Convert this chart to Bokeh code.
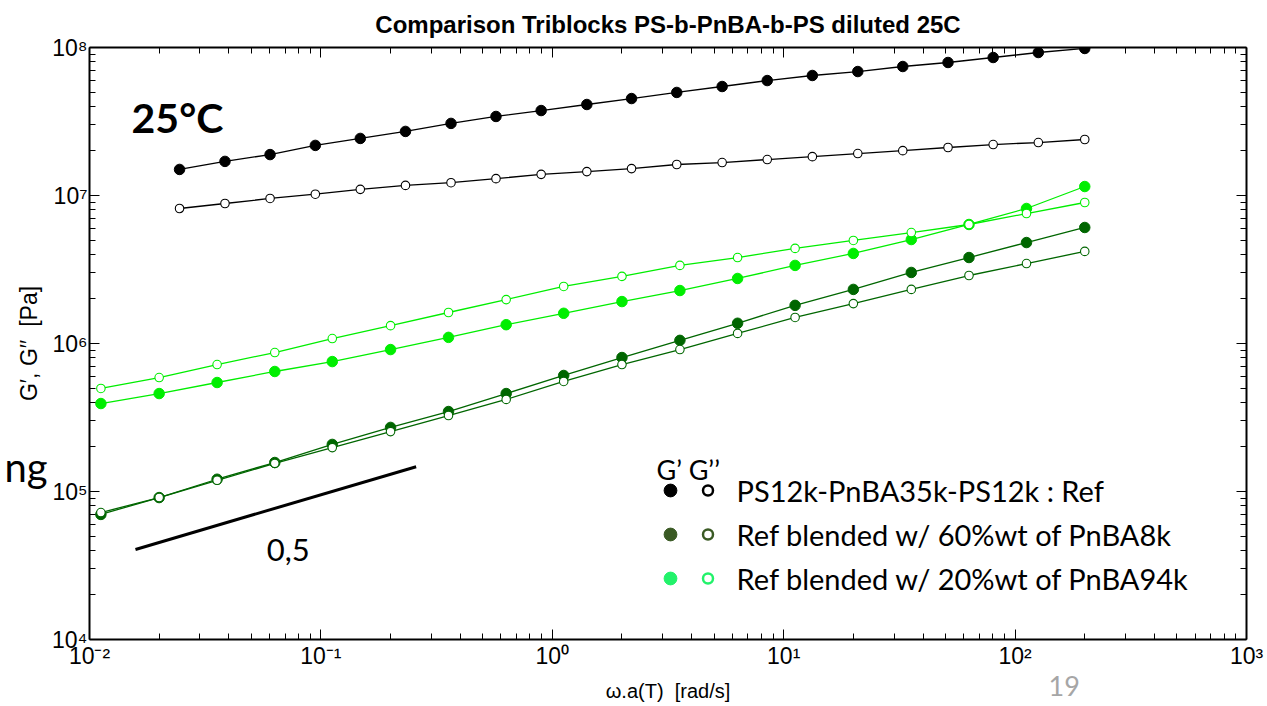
import math
from bokeh.plotting import figure
from bokeh.models import (Range1d, LogAxis, FixedTicker, Label, Legend, LegendItem,
                          ColumnDataSource, CustomJSTickFormatter)
from bokeh.embed import file_html
from bokeh.resources import INLINE

# ---------------- data ----------------
freq_ref = [0.0245, 0.0385, 0.0603, 0.0946, 0.148, 0.232, 0.365, 0.571, 0.895, 1.41, 2.20,
            3.45, 5.42, 8.49, 13.3, 20.9, 32.7, 51.3, 80.4, 126, 200]
gp_ref = [1.50e7, 1.70e7, 1.89e7, 2.18e7, 2.43e7, 2.71e7, 3.07e7, 3.42e7, 3.75e7, 4.12e7, 4.52e7,
          4.97e7, 5.45e7, 5.98e7, 6.47e7, 6.88e7, 7.44e7, 7.92e7, 8.56e7, 9.25e7, 9.85e7]
gpp_ref = [8.17e6, 8.83e6, 9.55e6, 1.02e7, 1.10e7, 1.17e7, 1.22e7, 1.30e7, 1.39e7, 1.45e7, 1.52e7,
           1.62e7, 1.67e7, 1.75e7, 1.83e7, 1.92e7, 2.01e7, 2.11e7, 2.21e7, 2.28e7, 2.39e7]

freq_blend = [0.0112, 0.02, 0.0356, 0.0632, 0.112, 0.2, 0.356, 0.632, 1.12, 2.0, 3.56, 6.32,
              11.2, 20.0, 35.6, 63.2, 112, 200]
gp_8k = [7.0e4, 9.1e4, 1.21e5, 1.57e5, 2.08e5, 2.71e5, 3.47e5, 4.59e5, 6.08e5, 8.04e5, 1.05e6,
         1.37e6, 1.81e6, 2.32e6, 3.02e6, 3.81e6, 4.81e6, 6.08e6]
gpp_8k = [7.21e4, 9.1e4, 1.19e5, 1.55e5, 1.98e5, 2.54e5, 3.26e5, 4.19e5, 5.54e5, 7.21e5, 9.10e5,
          1.17e6, 1.50e6, 1.86e6, 2.32e6, 2.88e6, 3.47e6, 4.19e6]
gp_94k = [3.93e5, 4.59e5, 5.45e5, 6.47e5, 7.55e5, 9.10e5, 1.10e6, 1.34e6, 1.60e6, 1.92e6, 2.28e6,
          2.75e6, 3.37e6, 4.06e6, 5.04e6, 6.37e6, 8.17e6, 1.15e7]
gpp_94k = [4.97e5, 5.89e5, 7.21e5, 8.69e5, 1.08e6, 1.32e6, 1.62e6, 1.98e6, 2.43e6, 2.84e6, 3.37e6,
           3.81e6, 4.39e6, 4.97e6, 5.62e6, 6.37e6, 7.55e6, 8.97e6]

slope_x = [0.0158, 0.258]
slope_y = [4.06e4, 1.47e5]

x_major = [1e-2, 1e-1, 1e0, 1e1, 1e2, 1e3]
x_tick_labels = ["10\u207b\u00b2", "10\u207b\u00b9", "10\u2070", "10\u00b9", "10\u00b2", "10\u00b3"]
y_major = [1e4, 1e5, 1e6, 1e7, 1e8]
y_tick_labels = ["10\u2074", "10\u2075", "10\u2076", "10\u2077", "10\u2078"]

legend_labels = ["PS12k-PnBA35k-PS12k : Ref",
                 "Ref blended w/ 60%wt of PnBA8k",
                 "Ref blended w/ 20%wt of PnBA94k"]
legend_colors = ["#000000", "#3a5a24", "#22f26a"]

title_text = "Comparison Triblocks PS-b-PnBA-b-PS diluted 25C"
x_label = "\u03c9.a(T)\u00a0\u00a0[rad/s]"
y_label = "G\u2032, G\u2032\u2032\u00a0\u00a0[Pa]"

# ---------------- figure ----------------
def minors(majors):
    out = []
    for m in majors[:-1]:
        out += [m * k for k in range(2, 10)]
    return out

def px_x(px):  # page x pixel -> data x (placement helper for texts)
    return 10 ** (-2 + (px - 89) / 231.0)

def px_y(py):
    return 10 ** (8 - (py - 47) / 148.0)

p = figure(width=1267, height=706, x_axis_type="log", y_axis_type="log",
           x_range=Range1d(1e-2, 1e3), y_range=Range1d(1e4, 1e8),
           output_backend="svg", toolbar_location=None,
           min_border_left=89, min_border_right=21, min_border_top=47, min_border_bottom=67)
p.outline_line_color = None
p.xgrid.visible = False
p.ygrid.visible = False
p.background_fill_color = "white"
p.border_fill_color = "white"

p.title.text = title_text
p.title.align = "center"
p.title.vertical_align = "top"
p.title.standoff = 15
p.title.text_font = "Liberation Sans"
p.title.text_font_style = "bold"
p.title.text_font_size = "24px"
p.title.text_color = "black"

def style_axis(ax):
    ax.axis_line_width = 2
    ax.axis_line_color = "black"
    ax.major_tick_in = 10
    ax.major_tick_out = 0
    ax.minor_tick_in = 6
    ax.minor_tick_out = 0
    ax.major_tick_line_color = "black"
    ax.minor_tick_line_color = "black"
    ax.major_tick_line_width = 1
    ax.minor_tick_line_width = 1

p.xaxis.ticker = FixedTicker(ticks=x_major, minor_ticks=minors(x_major))
p.yaxis.ticker = FixedTicker(ticks=y_major, minor_ticks=minors(y_major))
p.xaxis.major_label_overrides = dict(zip(x_major, x_tick_labels))
p.yaxis.major_label_overrides = dict(zip(y_major, y_tick_labels))
for ax in (p.xaxis[0], p.yaxis[0]):
    style_axis(ax)
    ax.major_label_text_font = "Liberation Sans"
    ax.major_label_text_font_size = "23px"
    ax.major_label_text_color = "black"
    ax.axis_label_text_font = "Liberation Sans"
    ax.axis_label_text_font_style = "normal"
    ax.axis_label_text_color = "black"
p.xaxis.major_label_standoff = 3
p.yaxis.major_label_standoff = 2
p.xaxis.axis_label = x_label
p.xaxis.axis_label_text_font_size = "20px"
p.xaxis.axis_label_standoff = 8
p.yaxis.axis_label = y_label
p.yaxis.axis_label_text_font_size = "23px"
p.yaxis.axis_label_standoff = 7

blank = CustomJSTickFormatter(code="return ''")
top_ax = LogAxis(ticker=FixedTicker(ticks=x_major, minor_ticks=minors(x_major)), formatter=blank,
                 major_label_text_font_size="1px", major_label_standoff=0)
right_ax = LogAxis(ticker=FixedTicker(ticks=y_major, minor_ticks=minors(y_major)), formatter=blank,
                   major_label_text_font_size="1px", major_label_standoff=0)
style_axis(top_ax)
style_axis(right_ax)
p.add_layout(top_ax, "above")
p.add_layout(right_ax, "right")

# slide fragments outside the chart frame ("ng" at the left, page number "19")
ng_y = px_y(466)
ng_ax = LogAxis(ticker=FixedTicker(ticks=[ng_y]), major_label_overrides={ng_y: "ng"},
                major_label_text_font="Lato", major_label_text_font_size="40px",
                major_label_text_color="black", major_label_standoff=-40,
                axis_line_color=None, major_tick_line_color=None, minor_tick_line_color=None)
p.add_layout(ng_ax, "left")
pg_x = px_x(1062)
pg_ax = LogAxis(ticker=FixedTicker(ticks=[pg_x]), major_label_overrides={pg_x: "19"},
                major_label_text_font="Lato", major_label_text_font_size="27px",
                major_label_text_color="#a6a6a6", major_label_standoff=-35,
                axis_line_color=None, major_tick_line_color=None, minor_tick_line_color=None)
p.add_layout(pg_ax, "below")

# ---------------- data series ----------------
dark = "#006600"
light = "#00ee00"
series = [
    (freq_ref, gp_ref, "black", True),
    (freq_ref, gpp_ref, "black", False),
    (freq_blend, gp_8k, dark, True),
    (freq_blend, gpp_8k, dark, False),
    (freq_blend, gp_94k, light, True),
    (freq_blend, gpp_94k, light, False),
]
for xs, ys, col, filled in series:
    src = ColumnDataSource(dict(x=xs, y=ys))
    p.line("x", "y", source=src, line_color=col, line_width=1.3)
    if filled:
        p.scatter("x", "y", source=src, marker="circle", size=10.5,
                  fill_color=col, line_color=col, line_width=1)
    else:
        p.scatter("x", "y", source=src, marker="circle", size=8.5,
                  fill_color="white", line_color=col, line_width=1.1)

p.line(slope_x, slope_y, line_color="black", line_width=3)

# ---------------- texts inside the frame ----------------
p.add_layout(Label(x=px_x(131), y=px_y(117), text="25\u00b0C", text_font="Lato",
                   text_font_style="bold", text_font_size="41px", text_color="black",
                   text_baseline="alphabetic"))
p.add_layout(Label(x=px_x(266), y=px_y(549), text="0,5", text_font="Lato",
                   text_font_size="31px", text_color="black", text_baseline="alphabetic"))
p.add_layout(Label(x=px_x(655), y=px_y(469), text="G\u2019 G\u2019\u2019", text_font="Lato",
                   text_font_size="27px", text_color="black", text_baseline="alphabetic"))

# ---------------- legend (two key columns) ----------------
nan = float("nan")
filled_items, open_items = [], []
for lab, col in zip(legend_labels, legend_colors):
    rf = p.scatter("x", "y", source=ColumnDataSource(dict(x=[nan], y=[nan])), marker="circle",
                   size=12.8, fill_color=col, line_color=col)
    ro = p.scatter("x", "y", source=ColumnDataSource(dict(x=[nan], y=[nan])), marker="circle",
                   size=10, fill_color="white", line_color=col, line_width=2.5)
    filled_items.append(LegendItem(label="", renderers=[rf]))
    open_items.append(LegendItem(label=lab, renderers=[ro]))

leg_a = Legend(items=filled_items, location=(565, 39), glyph_width=32, glyph_height=44,
               spacing=0, padding=0, margin=0, border_line_color=None, background_fill_alpha=0,
               label_text_font_size="1px", label_width=0, label_standoff=0)
leg_b = Legend(items=open_items, location=(605.5, 39), glyph_width=25, glyph_height=44,
               spacing=0, padding=0, margin=0, border_line_color=None, background_fill_alpha=0,
               label_text_font="Lato", label_text_font_size="29px", label_standoff=17,
               label_text_color="black")
p.add_layout(leg_a)
p.add_layout(leg_b)

open("out.html", "w").write(file_html(p, INLINE))
